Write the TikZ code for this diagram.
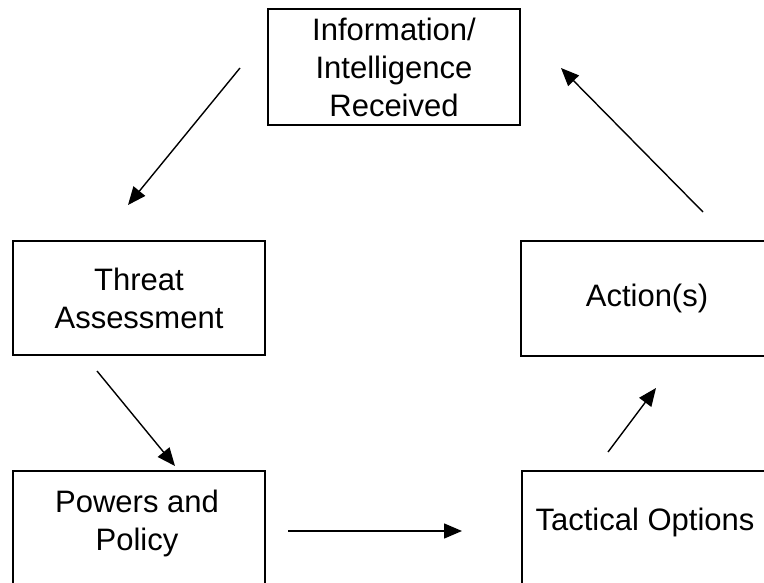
\documentclass[tikz,border=0pt]{standalone}
\usepackage{fontspec}
\setmainfont{Liberation Sans}
\usetikzlibrary{arrows.meta}
\tikzset{
  boxnode/.style={draw=black, line width=1.6pt, rectangle, minimum width=252pt, inner sep=0pt},
  boxtext/.style={align=center, font=\fontsize{31}{38}\selectfont, inner sep=0pt},
  flow/.style={line width=1.4pt, -{Triangle[length=18pt,width=15pt]}}
}
\begin{document}
\begin{tikzpicture}[x=1pt,y=-1pt]
\clip (0,0) rectangle (764,583);
\fill[white] (0,0) rectangle (764,583);
% boxes
\node[boxnode, boxtext, minimum height=116pt] (info) at (394,67) {Information/\\Intelligence\\Received};
\node[boxnode, boxtext, minimum height=114pt] (threat) at (139,298) {Threat\\Assessment};
\node[boxnode, boxtext, minimum height=115pt] (action) at (647,298.5) {Action(s)};
\node[boxnode, minimum height=130pt] (powers) at (139,536) {};
\node[boxtext] (powerstext) at (137,523) {Powers and\\Policy};
\node[boxnode, minimum height=130pt] (tactical) at (648,536) {};
\node[boxtext] (tacticaltext) at (645,522) {Tactical Options};
% connector end points
\coordinate (a1s) at (240,68);
\coordinate (a1e) at (128,205);
\coordinate (a2s) at (703,212);
\coordinate (a2e) at (561,68);
\coordinate (a3s) at (97,371);
\coordinate (a3e) at (175,466);
\coordinate (a4s) at (288,531);
\coordinate (a4e) at (462,531);
\coordinate (a5s) at (608,452);
\coordinate (a5e) at (656,388);
\draw[flow] (a1s) -- (a1e);
\draw[flow] (a2s) -- (a2e);
\draw[flow] (a3s) -- (a3e);
\draw[flow] (a4s) -- (a4e);
\draw[flow] (a5s) -- (a5e);
\end{tikzpicture}
\end{document}
